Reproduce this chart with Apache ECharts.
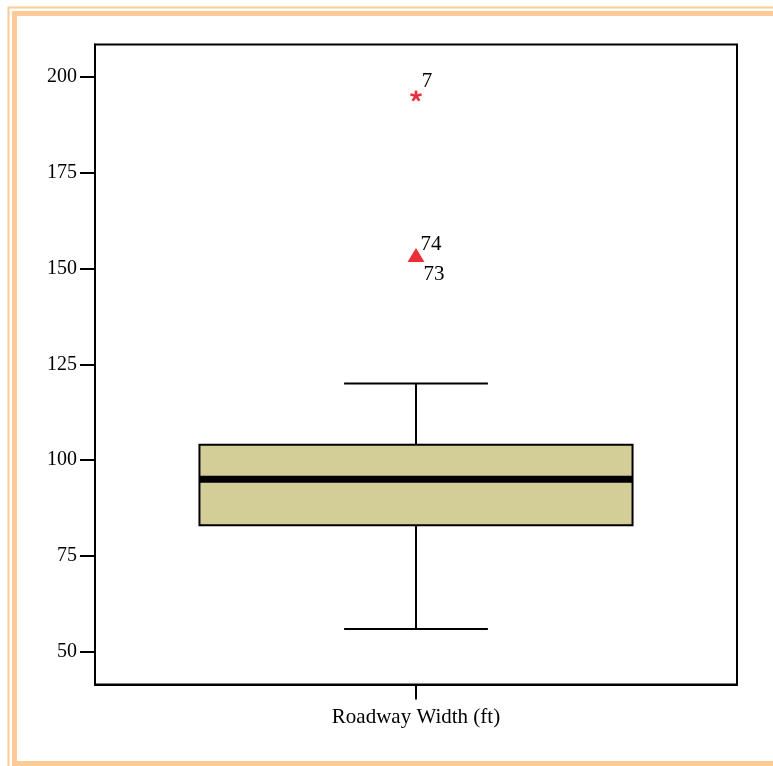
<!DOCTYPE html>
<html>
<head>
<meta charset="utf-8">
<script src="https://cdn.jsdelivr.net/npm/echarts@6/dist/echarts.min.js"></script>
<style>html,body{margin:0;padding:0;background:#fff}#chart{width:773px;height:766px}</style>
</head>
<body>
<div id="chart"></div>
<script>
// ---- data ----
var categories = ['Roadway Width (ft)'];
var whiskerLow = [56];
var q1 = [83];
var median = [95];
var q3 = [104];
var whiskerHigh = [120];
var outlierValues = [195, 153.5, 153.5];
var outlierIds = ['7', '74', '73'];
var outlierKinds = ['extreme', 'outlier', 'outlier'];
var yTickValues = [50, 75, 100, 125, 150, 175, 200];

// ---- chart ----
var chart = echarts.init(document.getElementById('chart'));
var FONT = '"Liberation Serif", "Times New Roman", serif';
var ORANGE = '#FECA96';

var boxData = categories.map(function (c, i) {
  return [i, whiskerLow[i], q1[i], median[i], q3[i], whiskerHigh[i]];
});

function renderBox(params, api) {
  var x = api.value(0);
  var lo = api.coord([x, api.value(1)]);
  var b1 = api.coord([x, api.value(2)]);
  var md = api.coord([x, api.value(3)]);
  var b3 = api.coord([x, api.value(4)]);
  var hi = api.coord([x, api.value(5)]);
  var band = api.size([1, 0])[0];
  var hw = band * 0.3373;
  var cw = band * 0.112;
  var cx = lo[0];
  var lineStyle = { stroke: '#000', lineWidth: 2 };
  return {
    type: 'group',
    children: [
      { type: 'line', shape: { x1: cx, y1: hi[1], x2: cx, y2: b3[1] }, style: lineStyle },
      { type: 'line', shape: { x1: cx, y1: b1[1], x2: cx, y2: lo[1] }, style: lineStyle },
      { type: 'line', shape: { x1: cx - cw, y1: hi[1], x2: cx + cw, y2: hi[1] }, style: lineStyle },
      { type: 'line', shape: { x1: cx - cw, y1: lo[1], x2: cx + cw, y2: lo[1] }, style: lineStyle },
      { type: 'rect', shape: { x: cx - hw, y: b3[1], width: hw * 2, height: b1[1] - b3[1] },
        style: { fill: '#D3CE98', stroke: '#000', lineWidth: 2 } },
      { type: 'line', shape: { x1: cx - hw, y1: md[1], x2: cx + hw, y2: md[1] },
        style: { stroke: '#000', lineWidth: 7 } }
    ]
  };
}

// chunky asterisk (5 arms)
var starPath = 'path://M8,0 L12,0 L12,6.5 L18.2,4.5 L19.4,8.3 L13.2,10.3 L17,15.6 L13.8,18 L10,12.7 L6.2,18 L3,15.6 L6.8,10.3 L0.6,8.3 L1.8,4.5 L8,6.5 Z';
var labelOffsets = [[11, -14], [15, -11], [18, 19]];

var outlierData = outlierValues.map(function (v, i) {
  var extreme = outlierKinds[i] === 'extreme';
  return {
    value: [0, v],
    symbol: extreme ? starPath : 'triangle',
    symbolSize: extreme ? [12, 11] : (i === 1 ? [17, 14] : 0),
    label: {
      show: true,
      formatter: outlierIds[i],
      position: 'inside',
      offset: labelOffsets[i],
      align: 'center',
      verticalAlign: 'middle',
      color: '#000',
      fontFamily: FONT,
      fontSize: 21
    }
  };
});

chart.setOption({
  animation: false,
  backgroundColor: '#fff',
  graphic: [
    { type: 'rect', shape: { x: 8.5, y: 7.5, width: 820, height: 820 },
      style: { fill: 'none', stroke: ORANGE, lineWidth: 2 }, silent: true },
    { type: 'rect', shape: { x: 14.5, y: 13.5, width: 820, height: 750 },
      style: { fill: 'none', stroke: ORANGE, lineWidth: 5 }, silent: true }
  ],
  grid: {
    left: 95, right: 36, top: 44.5, bottom: 81.5,
    show: true, borderColor: '#000', borderWidth: 2, backgroundColor: 'transparent'
  },
  xAxis: {
    type: 'category',
    data: categories,
    boundaryGap: true,
    axisLine: { show: true, lineStyle: { color: '#000', width: 2 } },
    axisTick: { show: true, inside: false, alignWithLabel: true, length: 15, lineStyle: { color: '#000', width: 2 } },
    axisLabel: { color: '#000', fontFamily: FONT, fontSize: 21, margin: 22 },
    splitLine: { show: false }
  },
  yAxis: {
    type: 'value',
    min: 41.5,
    max: 208.4,
    axisLine: { show: true, lineStyle: { color: '#000', width: 2 } },
    axisTick: { show: true, inside: false, length: 15, customValues: yTickValues, lineStyle: { color: '#000', width: 2 } },
    axisLabel: { color: '#000', fontFamily: FONT, fontSize: 20, margin: 18, customValues: yTickValues },
    splitLine: { show: false }
  },
  series: [
    {
      type: 'custom',
      renderItem: renderBox,
      data: boxData,
      encode: { x: 0, y: [1, 2, 3, 4, 5] },
      z: 2
    },
    {
      type: 'scatter',
      data: outlierData,
      itemStyle: { color: '#EC2F36', opacity: 1 },
      emphasis: { disabled: true },
      z: 3
    }
  ]
});
</script>
</body>
</html>
